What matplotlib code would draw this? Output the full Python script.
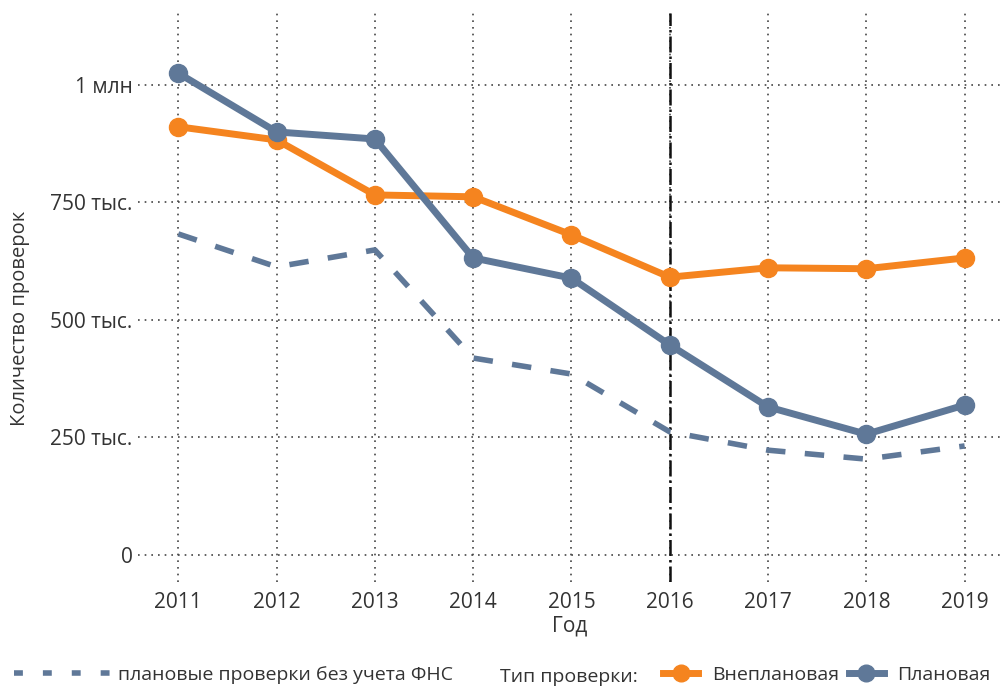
import numpy as np
import matplotlib
matplotlib.use('Agg')
import matplotlib.pyplot as plt
from matplotlib.lines import Line2D

plt.rcParams['font.family'] = ['Open Sans', 'DejaVu Sans']

years = [2011, 2012, 2013, 2014, 2015, 2016, 2017, 2018, 2019]
# thousands of inspections
planned = [1025, 900, 885, 632, 589, 447, 315, 257, 319]
unplanned = [911, 883, 766, 762, 681, 591, 611, 609, 632]
planned_no_fns = [683, 613, 649, 419, 385, 262, 223, 204, 232]

yticks = [0, 250, 500, 750, 1000]
ytick_labels = ['0', '250 тыс.', '500 тыс.', '750 тыс.', '1 млн']

c_orange = '#F5841F'
c_blue = '#5F7898'
c_text = '#333333'

fig = plt.figure(figsize=(10.01, 6.88), dpi=100)
ax = fig.add_axes([138/1001, 106/688, 1 - 138/1001, (582-13)/688])

ax.plot(years, planned_no_fns, color=c_blue, lw=4, ls=(0, (3.5, 3.5)))
ax.plot(years, unplanned, color=c_orange, lw=5, marker='o', ms=13)
ax.plot(years, planned, color=c_blue, lw=5, marker='o', ms=13)
ax.axvline(2016, color='#111111', lw=1.8, ls='-.', zorder=1)

ax.set_xlim(2010.59, 2019.37)
ax.set_ylim(-57.4, 1153)
ax.set_xticks(years)
ax.set_yticks(yticks)
ax.set_yticklabels(ytick_labels)
ax.tick_params(length=0, labelsize=15, colors=c_text, pad=7)
ax.tick_params(axis='y', pad=4)
for s in ax.spines.values():
    s.set_visible(False)
ax.grid(True, color='#444444', ls=(0, (1, 3)), lw=1.2)
ax.set_axisbelow(True)
ax.set_xlabel('Год', fontsize=15, color=c_text, labelpad=2)
ax.set_ylabel('Количество проверок', fontsize=14.5, color=c_text)
ax.yaxis.set_label_coords(-0.125, 0.464)

# legends
h_dash = Line2D([], [], color=c_blue, lw=4, ls=(0, (1.6, 3.6)))
leg1 = fig.legend([h_dash], ['плановые проверки без учета ФНС'], loc='lower left',
                  bbox_to_anchor=(-0.003, -0.02), frameon=False, fontsize=14,
                  handlelength=5.0, handletextpad=0.3, labelcolor=c_text)
h_o = Line2D([], [], color=c_orange, lw=5, marker='o', ms=12)
h_b = Line2D([], [], color=c_blue, lw=5, marker='o', ms=12)
leg2 = fig.legend([h_o, h_b], ['Внеплановая', 'Плановая'], loc='lower right',
                  bbox_to_anchor=(1.007, -0.02), frameon=False, fontsize=14, ncol=2,
                  handlelength=1.8, handletextpad=0.7, columnspacing=0.5,
                  labelcolor=c_text)
fig.text(0.5, 0.003, 'Тип проверки:', fontsize=14, color=c_text, va='bottom')

fig.savefig('out.png', dpi=100)
